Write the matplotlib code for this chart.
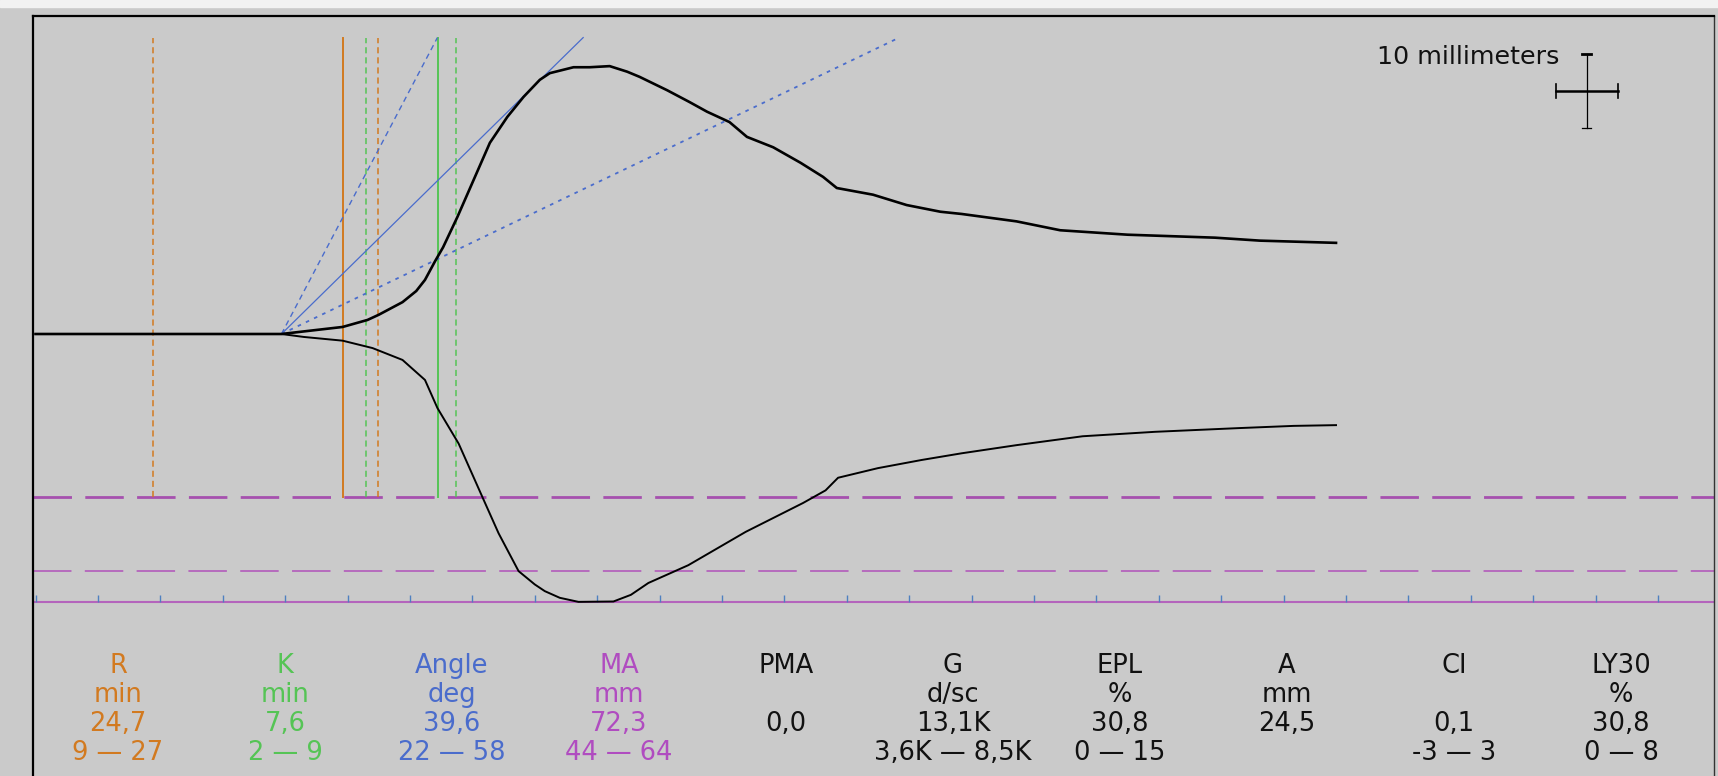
import numpy as np
import matplotlib
matplotlib.use("Agg")
import matplotlib.pyplot as plt
from matplotlib.patches import Rectangle

# === Dati del tracciato (tempo in minuti, ampiezza in mm) ===
upper_t = [0, 19.7, 21.5, 24.6, 26.6, 27.5, 29.4, 30.5, 31.2, 32.0, 32.65, 33.8, 35.1,
           36.4, 37.8, 39.1, 40.4, 41.2, 43.1, 44.4, 46.0, 47.4, 48.4, 50.6, 52.4,
           53.8, 55.6, 57.0, 59.1, 61.3, 63.1, 64.2, 67.1, 69.8, 72.5, 74.2, 78.6,
           82.1, 87.5, 94.5, 98.1, 104.2]
upper_mm = [0, 0, 0.35, 0.95, 1.9, 2.6, 4.3, 5.8, 7.3, 9.8, 11.7, 15.8, 20.8,
            25.8, 29.3, 32.0, 34.3, 35.2, 36.0, 36.0, 36.15, 35.4, 34.7, 32.9, 31.3,
            30.0, 28.6, 26.6, 25.2, 23.1, 21.2, 19.7, 18.8, 17.4, 16.5, 16.2, 15.2,
            14.0, 13.4, 13.0, 12.6, 12.3]

lower_t = [0, 19.7, 21.5, 24.6, 27.0, 29.4, 31.2, 32.2, 33.9, 35.8, 37.1, 38.7, 40.0,
           40.8, 42.0, 43.5, 46.3, 47.7, 49.1, 52.3, 56.9, 61.5, 63.3, 64.3, 67.5,
           71.0, 74.2, 78.6, 83.9, 89.7, 96.4, 100.8, 104.2]
lower_mm = [0, 0, -0.4, -0.9, -1.9, -3.5, -6.2, -10.0, -14.8, -22.0, -26.9, -32.0, -33.8,
            -34.7, -35.6, -36.15, -36.1, -35.2, -33.6, -31.2, -26.7, -22.8, -21.1, -19.4, -18.1,
            -17.0, -16.1, -15.0, -13.8, -13.2, -12.7, -12.4, -12.3]

# === Parametri TEG ===
r_val = 24.6
r_lines = [9.4, 27.4]
k_val = 32.25
k_lines = [26.5, 33.7]
angle_val = 39.6
angle_range = [22, 58]
ma_val = 72.3
ma_range = [44, 64]
split_t = 19.7

labels = ["R", "K", "Angle", "MA", "PMA", "G", "EPL", "A", "CI", "LY30"]
units = ["min", "min", "deg", "mm", "", "d/sc", "%", "mm", "", "%"]
values = ["24,7", "7,6", "39,6", "72,3", "0,0", "13,1K", "30,8", "24,5", "0,1", "30,8"]
ranges = ["9 — 27", "2 — 9", "22 — 58", "44 — 64", "", "3,6K — 8,5K", "0 — 15", "", "-3 — 3", "0 — 8"]

# === Colori ===
bg = "#cacaca"
orange = "#d27a20"
green = "#55c455"
blue = "#4a6ccc"
purple = "#a650ae"
col_colors = [orange, green, blue, "#b04cc0", "#111111", "#111111", "#111111",
              "#111111", "#111111", "#111111"]

W, H = 1718, 776
fig = plt.figure(figsize=(W / 100, H / 100), dpi=100, facecolor=bg)
fig.patches.append(Rectangle((0, 1 - 7 / H), 1, 7 / H, transform=fig.transFigure,
                             color="#f2f2f2", zorder=-1))

# asse: pixel 33..1714 in x, 16..800 in y
ax = fig.add_axes([33 / W, -24 / H, (1714 - 33) / W, (800 - 16) / H])
ax.set_facecolor(bg)
px_min, px_mm = 12.48, 7.41
x0 = 35.6
ax.set_xlim((33 - x0) / px_min, (1714 - x0) / px_min)
ax.set_ylim(-(800 - 334) / px_mm, (334 - 16) / px_mm)
ax.set_xticks([])
ax.set_yticks([])
ax.spines["top"].set_linewidth(1.6)
ax.spines["left"].set_linewidth(1.6)
ax.spines["right"].set_linewidth(1.0)
ax.spines["right"].set_color("#333333")
ax.spines["bottom"].set_visible(False)

top = 40.0
ma_lo = -ma_range[0] / 2

# linee verticali R e K
for t in r_lines:
    ax.plot([t, t], [ma_lo, top], color=orange, lw=1.1, ls=(0, (4, 2.6)), zorder=2)
ax.plot([r_val, r_val], [ma_lo, top], color=orange, lw=1.4, zorder=2)
for t in k_lines:
    ax.plot([t, t], [ma_lo, top], color=green, lw=1.1, ls=(0, (4, 2.6)), zorder=2)
ax.plot([k_val, k_val], [ma_lo, top], color=green, lw=1.4, zorder=2)

# linee MA
ax.axhline(-ma_range[0] / 2, color=purple, lw=2.0, ls=(0, (27.7 / 2.0, 9.6 / 2.0)), zorder=1)
ax.axhline(-ma_range[1] / 2, color="#b464bc", lw=1.3, ls=(0, (27.7 / 1.3, 9.6 / 1.3)), zorder=1)
ax.axhline(-ma_val / 2, color="#b464bc", lw=1.5, zorder=1)

# tacche del tempo ogni 5 minuti
tick_t = np.arange(0, 135, 5)
ax.vlines(tick_t, -ma_val / 2, -ma_val / 2 + 0.95, color="#4f80c0", lw=1.0, zorder=2)

# linee dell'angolo
for a, style, lw in [(angle_range[1], (0, (4, 3)), 1.0),
                     (angle_val, "-", 0.9),
                     (angle_range[0], (0, (2, 3)), 1.3)]:
    slope = 2 * np.tan(np.radians(a))
    ax.plot([split_t, split_t + top / slope], [0, top], color=blue, lw=lw, ls=style, zorder=3)

# tracciato
ax.plot(upper_t, upper_mm, color="black", lw=1.9, zorder=4, solid_joinstyle="round")
ax.plot(lower_t, lower_mm, color="black", lw=1.4, zorder=4, solid_joinstyle="round")

# scala 10 mm
sb_t, sb_mm = 124.3, 32.8
ax.plot([sb_t, sb_t], [sb_mm - 5, sb_mm + 5], color="black", lw=0.9, zorder=4)
ax.plot([sb_t - 2.5, sb_t + 2.5], [sb_mm, sb_mm], color="black", lw=1.8, zorder=4)
ax.plot([sb_t - 0.35, sb_t + 0.35], [sb_mm + 5, sb_mm + 5], color="black", lw=2.0, zorder=4)
ax.plot([sb_t - 0.35, sb_t + 0.35], [sb_mm - 5, sb_mm - 5], color="black", lw=0.9, zorder=4)
ax.plot([sb_t - 2.5, sb_t - 2.5], [sb_mm - 1, sb_mm + 1], color="black", lw=1.2, zorder=4)
ax.plot([sb_t + 2.5, sb_t + 2.5], [sb_mm - 1, sb_mm + 1], color="black", lw=1.2, zorder=4)
fig.text(1559 / W, 1 - 57 / H, "10 millimeters", ha="right", va="center",
         fontsize=18.3, color="#111111", family="DejaVu Sans")

# tabella dei risultati
row_y = [666, 695, 724, 753]
for i in range(len(labels)):
    xf = (118 + 167 * i) / W
    for j, txt in enumerate([labels[i], units[i], values[i], ranges[i]]):
        if txt:
            fig.text(xf, 1 - row_y[j] / H, txt, ha="center", va="center",
                     fontsize=18.5, color=col_colors[i], family="DejaVu Sans")

fig.savefig("out.png", dpi=100, facecolor=bg)
